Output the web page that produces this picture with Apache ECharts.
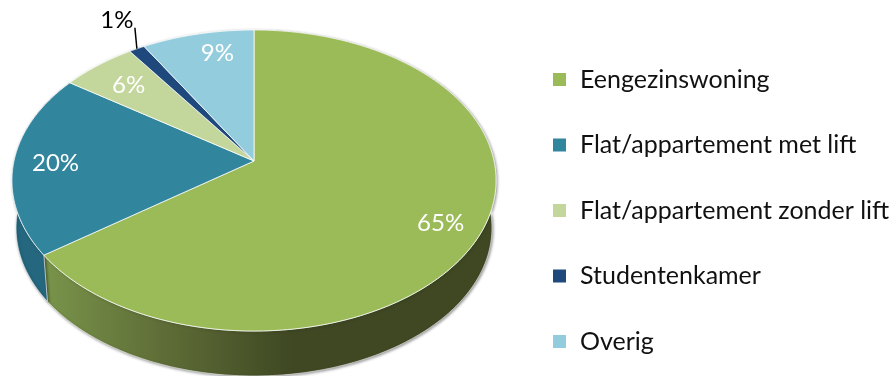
<!DOCTYPE html>
<html>
<head>
<meta charset="utf-8">
<script src="https://cdn.jsdelivr.net/npm/echarts@6/dist/echarts.min.js"></script>
<style>html,body{margin:0;padding:0;background:#fff}#c{width:892px;height:376px}</style>
</head>
<body>
<div id="c"></div>
<script>
const categories = ['Eengezinswoning','Flat/appartement met lift','Flat/appartement zonder lift','Studentenkamer','Overig'];
const shares = [65.0, 19.6, 5.7, 1.2, 8.5];
const percentLabels = ['65%','20%','6%','1%','9%'];
const colors = ['#9BBB59','#31859C','#C3D69B','#1F497D','#93CDDD'];
const labelNudge = [[0,4],[1,1],[6,5],[0,0],[11,0]];

const FONT = 'Lato, "Open Sans", sans-serif';
const total = shares.reduce((a,b)=>a+b,0);
const starts = shares.map((_,i)=>shares.slice(0,i).reduce((a,b)=>a+b,0));

const apexX = 254, apexY = 161, R = 240, B = 148, K = 0.1296;
const midTop = 180.5, midBottom = 228, bottomScale = 0.983;

function project(deg, r){
  const t = deg*Math.PI/180, u = r*Math.sin(t), v = -r*Math.cos(t), w = 1-K*v;
  return [apexX + R*u/w, apexY + B*v/w];
}
function lower(p){
  return [apexX+(p[0]-apexX)*bottomScale, midBottom+(p[1]-midTop)*bottomScale];
}
function arc(a,b){
  const n = Math.max(2,Math.ceil(Math.abs(b-a))), pts=[];
  for(let i=0;i<=n;i++) pts.push(project(a+(b-a)*i/n,1));
  return pts;
}
function wallFill(i){
  if(i===0) return {type:'linear',x:47,y:0,x2:292,y2:0,global:true,colorStops:[
    {offset:0,color:'#78934a'},{offset:0.45,color:'#606f38'},{offset:1,color:'#3f4823'}]};
  if(i===1) return '#24677e';
  return colors[i];
}

function renderSlice(params, api){
  const i = params.seriesIndex;
  const a = api.value(0)/total*360, b = (api.value(0)+api.value(1))/total*360, mid=(a+b)/2;
  const rim = arc(a,b);
  const children = [
    {type:'polygon', z2:1, silent:true,
     shape:{points: rim.concat(rim.map(lower).reverse())},
     style:{fill:wallFill(i), stroke:'rgba(255,255,255,0.55)', lineWidth:1,
            shadowBlur:3, shadowColor:'rgba(0,0,0,0.45)', shadowOffsetX:1, shadowOffsetY:1}},
    {type:'polygon', z2:10, silent:true,
     shape:{points:[[apexX,apexY]].concat(rim)},
     style:{fill:colors[i], stroke:'rgba(255,255,255,0.75)', lineWidth:1}}
  ];
  let lx, ly, fill;
  if(i===3){
    const p = project(mid,1);
    children.push({type:'line', z2:20, silent:true,
      shape:{x1:p[0],y1:p[1],x2:p[0]-2,y2:p[1]-21},
      style:{stroke:'#000',lineWidth:1.5}});
    lx=p[0]-20; ly=p[1]-29; fill='#000';
  } else {
    const p = project(mid,0.83);
    lx=p[0]+labelNudge[i][0]; ly=p[1]+labelNudge[i][1]; fill='#fff';
  }
  children.push({type:'text', z2:21, silent:true, x:lx, y:ly,
    style:{text:percentLabels[i], fill, font:'24px '+FONT, textAlign:'center', textVerticalAlign:'middle'}});
  return {type:'group', children};
}

const chart = echarts.init(document.getElementById('c'), null, {renderer:'canvas'});
chart.setOption({
  animation:false,
  backgroundColor:'#fff',
  legend:{
    orient:'vertical', left:553, top:67, padding:0, itemWidth:13, itemHeight:13, itemGap:40.5,
    icon:'rect', selectedMode:false, data:categories,
    textStyle:{color:'#111', fontFamily:FONT, fontSize:25, padding:[0,0,0,9]}
  },
  series: categories.map((name,i)=>({
    type:'custom', name, coordinateSystem:'none',
    itemStyle:{color:colors[i]},
    data:[[starts[i], shares[i]]],
    renderItem:renderSlice
  }))
});
</script>
</body>
</html>
